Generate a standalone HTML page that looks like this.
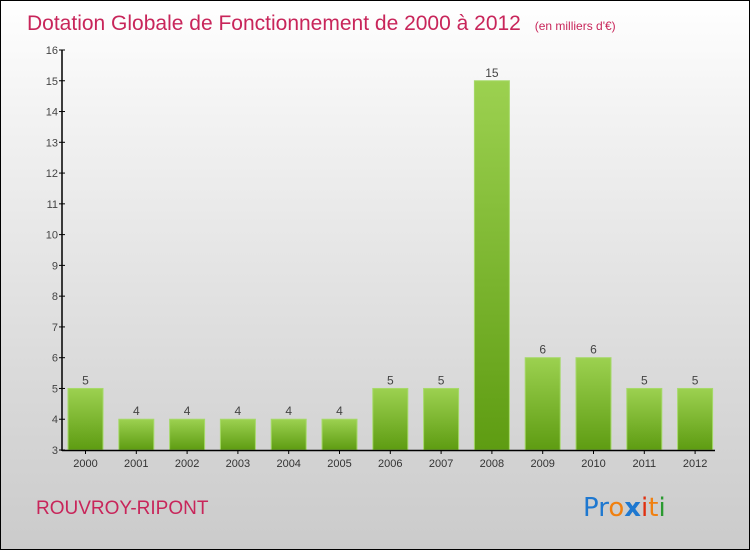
<!DOCTYPE html>
<html><head><meta charset="utf-8"><style>
body{margin:0}
#c{position:relative;width:748px;height:548px;border:1px solid #000;background:linear-gradient(#fff,#f3f3f3 20%,#d9d9d9 70%,#cbcbcb);font-family:"Liberation Sans",sans-serif;overflow:hidden}
</style></head><body>
<div id="c">
<svg width="748" height="548" style="position:absolute;left:0;top:0" id="svg">
<defs><linearGradient id="g" x1="0" y1="0" x2="0" y2="1"><stop offset="0" stop-color="#9cd150"/><stop offset="1" stop-color="#5e9c12"/></linearGradient></defs>
<text x="26" y="29" font-size="21" fill="#c8255a">Dotation Globale de Fonctionnement de 2000 à 2012 <tspan font-size="12" dx="8">(en milliers d'€)</tspan></text>
<text x="35" y="513" font-size="19" fill="#c8255a">ROUVROY-RIPONT</text>
<g id="bars"></g><g id="axes"></g>
<text x="582" y="515" font-size="26" font-family="'DejaVu Sans',sans-serif"><tspan fill="#1e78d0">Pr</tspan><tspan fill="#f08010">o</tspan><tspan fill="#1e78d0" font-weight="bold">x</tspan><tspan fill="#e03010">i</tspan><tspan fill="#f08010">t</tspan><tspan fill="#2a9a30">i</tspan></text>
</svg></div>
<script>
const years=["2000","2001","2002","2003","2004","2005","2006","2007","2008","2009","2010","2011","2012"];
const values=[5,4,4,4,4,4,5,5,15,6,6,5,5];
const yTicks=[3,4,5,6,7,8,9,10,11,12,13,14,15,16];
const NS="http://www.w3.org/2000/svg";
const y=v=>449-(v-3)*30.77;
const x=i=>84.5+i*50.8;
function mk(t,a,p,txt){const e=document.createElementNS(NS,t);for(const k in a)e.setAttribute(k,a[k]);if(txt!==undefined)e.textContent=txt;p.appendChild(e);return e;}
const B=document.getElementById('bars'),A=document.getElementById('axes');
values.forEach((v,i)=>{
 const r=mk('rect',{x:x(i)-17.5,y:y(v),width:35,height:y(3)-y(v),fill:'url(#g)',stroke:'#a6d96a','stroke-width':1},B);
 
 
 const t=mk('text',{x:x(i),y:y(v)-4,'text-anchor':'middle','font-size':12,fill:'#444'},B,v);
 
 
 const l=mk('text',{x:x(i),y:466,'text-anchor':'middle','font-size':11,fill:'#333'},A,years[i]);
 
 
 mk('line',{x1:x(i),x2:x(i),y1:449,y2:453,stroke:'#000'},A);
});
const ya=mk('line',{x1:61,x2:61,y1:y(16),y2:450,stroke:'#000','stroke-width':1.5},A);


const xa=mk('line',{x1:61,x2:714,y1:449.5,y2:449.5,stroke:'#000','stroke-width':1.5},A);


yTicks.forEach(v=>{
 mk('line',{x1:58,x2:64,y1:y(v),y2:y(v),stroke:'#000'},A);
 const t=mk('text',{x:57,y:y(v)+4,'text-anchor':'end','font-size':11,fill:'#444'},A,v);
 
 
});
</script></body></html>
